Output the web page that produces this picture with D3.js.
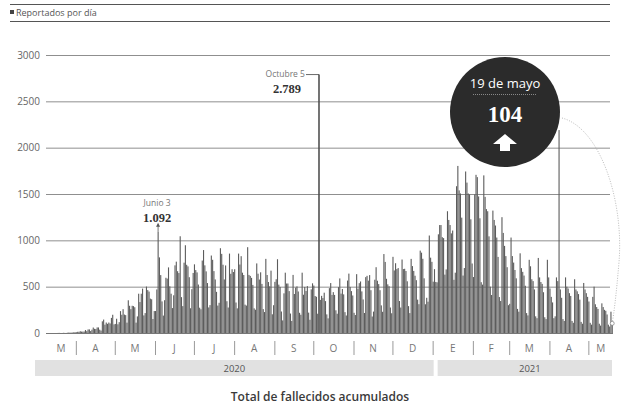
<!DOCTYPE html>
<html>
<head>
<meta charset="utf-8">
<script src="https://cdn.jsdelivr.net/npm/d3@7"></script>
<style>
  body { margin: 0; background: #fff; }
  text { font-family: "Open Sans", sans-serif; }
</style>
</head>
<body>
<svg id="chart" width="624" height="407"></svg>
<script>
// daily reported deaths (one array per month)
const START = Date.UTC(2020, 2, 9);
const END = Date.UTC(2021, 4, 20);
const mar2020 = [0,0,0,0,0,0,0,0,0,1,1,0,0,2,1,0,3,4,4,4,4,8,8];
const apr2020 = [8,13,13,19,15,15,16,32,20,38,39,21,36,59,45,43,60,60,36,26,126,145,90,113,99,113,103,163,197,93];
const may2020 = [98,154,94,117,236,197,257,199,193,112,353,294,257,294,290,278,112,179,424,334,424,479,190,215,501,463,447,371,364,151,237];
const jun2020 = [237,470,1092,816,625,341,188,354,596,587,708,504,424,269,407,730,770,667,647,1044,387,290,759,947,736,719,602,267,473,648];
const jul2020 = [741,679,654,523,273,256,782,895,730,665,539,276,301,836,790,668,578,444,296,326,915,854,737,578,729,343,275,857,639,688,658];
const aug2020 = [688,329,266,857,739,829,651,626,306,296,926,627,616,595,519,266,251,751,640,577,655,530,258,226,800,626,550,504,673,202,300];
const sep2020 = [552,580,796,522,497,232,136,428,651,534,534,452,210,130,627,421,490,503,448,218,197,651,413,497,453,506,220,143,471,536];
const oct2020 = [512,399,391,208,2789,357,401,377,435,344,201,158,484,539,411,441,411,245,208,495,589,425,475,417,225,189,566,641,497,452,405];
const nov2020 = [218,194,635,478,538,556,449,362,216,603,617,565,625,462,178,231,575,710,564,528,462,298,229,852,767,585,525,505,275,213];
const dec2020 = [822,675,753,690,701,345,275,793,690,693,669,558,290,215,800,722,670,618,570,360,311,889,867,801,590,310,380,338,1052,813,768];
const jan2021 = [554,689,551,547,1065,1165,1165,1034,1024,630,686,1314,1220,1165,1075,1106,574,651,1584,1803,1539,1506,1245,620,701,1743,1623,1506,1495,1227,750];
const feb2021 = [604,1495,1707,1682,1474,1238,548,522,1701,1469,1337,1314,1043,500,410,1321,1220,1160,1030,821,388,345,1250,1080,940,830,710,300];
const mar2021 = [315,1030,830,760,680,590,260,230,860,700,660,620,510,215,190,790,720,580,560,470,180,160,810,600,550,530,440,170,150,790,600];
const apr2021 = [480,390,330,160,180,600,560,2190,470,380,150,130,600,500,480,430,400,130,110,580,470,450,420,360,120,100,540,470,430,390];
const may2021 = [340,110,90,390,500,310,280,260,100,80,320,280,250,240,200,90,70,230,104];

const yTicks = [0, 500, 1000, 1500, 2000, 2500, 3000];
const monthLabels = ["M","A","M","J","J","A","S","O","N","D","E","F","M","A","M"];
const yearLabels = ["2020", "2021"];
const yearStarts = [Date.UTC(2020, 2, 1), Date.UTC(2021, 0, 1)];

const daily = [].concat(mar2020, apr2020, may2020, jun2020, jul2020, aug2020,
  sep2020, oct2020, nov2020, dec2020, jan2021, feb2021, mar2021, apr2021, may2021)
  .map((v, i) => ({ date: d3.utcDay.offset(new Date(START), i), value: v }));

const svg = d3.select("#chart");
const x = d3.scaleUtc().domain([new Date(START), new Date(END)]).range([46, 613]);
const y = d3.scaleLinear().domain([0, 3000]).range([333, 55]);

// header rules
svg.append("line").attr("x1", 10).attr("x2", 610).attr("y1", 4.5).attr("y2", 4.5)
  .attr("stroke", "#555").attr("stroke-width", 1);
svg.append("line").attr("x1", 10).attr("x2", 610).attr("y1", 21.5).attr("y2", 21.5)
  .attr("stroke", "#555").attr("stroke-width", 1);
svg.append("rect").attr("x", 10).attr("y", 10).attr("width", 4).attr("height", 4).attr("fill", "#444");
svg.append("text").attr("x", 16).attr("y", 16).attr("font-size", 9).attr("fill", "#555")
  .text("Reportados por día");

// grid + y labels
const yAxis = svg.append("g").attr("transform", "translate(46,0)")
  .call(d3.axisLeft(y).tickValues(yTicks).tickSize(-564).tickPadding(6).tickFormat(d3.format("d")));
yAxis.select(".domain").remove();
yAxis.selectAll(".tick line").attr("stroke", "#8f8f8f");
yAxis.selectAll(".tick text").attr("fill", "#666").attr("font-size", 10)
  .style("font-family", '"Open Sans", sans-serif');

// bars
svg.append("g").selectAll("rect")
  .data(daily.filter(d => d.value > 0))
  .join("rect")
  .attr("x", d => x(d.date))
  .attr("width", 1.1)
  .attr("y", d => y(d.value))
  .attr("height", d => y(0) - y(d.value))
  .attr("fill", "#5c5c5c");

// baseline
svg.append("line").attr("x1", 46).attr("x2", 613).attr("y1", y(0) + 0.5).attr("y2", y(0) + 0.5)
  .attr("stroke", "#777");

// month separators and labels
const monthStarts = d3.utcMonth.range(new Date(Date.UTC(2020, 3, 1)), new Date(END));
const mAxis = svg.append("g").attr("transform", "translate(0,341)")
  .call(d3.axisBottom(x).tickValues(monthStarts).tickSize(14).tickFormat(""));
mAxis.select(".domain").remove();
mAxis.selectAll(".tick line").attr("stroke", "#999");

const bounds = [new Date(START)].concat(monthStarts, [new Date(END)]);
svg.append("g").selectAll("text")
  .data(monthLabels)
  .join("text")
  .attr("x", (d, i) => (x(bounds[i]) + x(bounds[i + 1])) / 2)
  .attr("y", 352)
  .attr("text-anchor", "middle")
  .attr("font-size", 10)
  .attr("fill", "#777")
  .text(d => d);

// year bands
const yearEnds = [Date.UTC(2021, 0, 1), END];
const bandLeft = i => i === 0 ? 35 : x(new Date(yearStarts[i])) + 5;
const bandRight = i => i === 0 ? x(new Date(yearEnds[0])) + 1 : 612;
svg.append("g").selectAll("rect")
  .data(yearLabels)
  .join("rect")
  .attr("x", (d, i) => bandLeft(i))
  .attr("width", (d, i) => bandRight(i) - bandLeft(i))
  .attr("y", 360).attr("height", 16)
  .attr("fill", "#e1e1e1");
svg.append("g").selectAll("text")
  .data(yearLabels)
  .join("text")
  .attr("x", (d, i) => (bandLeft(i) + bandRight(i)) / 2 + (i === 1 ? 5 : 0))
  .attr("y", 371.5)
  .attr("text-anchor", "middle")
  .attr("font-size", 9.5)
  .attr("fill", "#555")
  .text(d => d);

// title
svg.append("text").attr("x", 320).attr("y", 401).attr("text-anchor", "middle")
  .attr("font-size", 12).attr("font-weight", 600).attr("fill", "#3a3a3a")
  .text("Total de fallecidos acumulados");

// annotation: junio 3
const jun3 = daily.find(d => +d.date === Date.UTC(2020, 5, 3));
const jx = x(jun3.date) + 0.5;
svg.append("line").attr("x1", jx).attr("x2", jx).attr("y1", y(jun3.value)).attr("y2", y(jun3.value) - 7)
  .attr("stroke", "#555").attr("stroke-width", 0.8);
svg.append("path")
  .attr("d", `M${jx - 2},${y(jun3.value) - 5} L${jx},${y(jun3.value) - 9} L${jx + 2},${y(jun3.value) - 5} Z`)
  .attr("fill", "#555");
svg.append("text").attr("x", jx - 1).attr("y", 206).attr("text-anchor", "middle")
  .attr("font-size", 8.5).attr("fill", "#777").text("Junio 3");
svg.append("text").attr("x", jx - 1).attr("y", 222).attr("text-anchor", "middle")
  .attr("font-size", 12.5).attr("font-weight", "bold").attr("fill", "#333")
  .style("font-family", '"Liberation Serif", "DejaVu Serif", serif')
  .text(d3.format(",")(jun3.value).replace(",", "."));

// annotation: octubre 5
const oct5 = daily.find(d => +d.date === Date.UTC(2020, 9, 5));
const ox = x(oct5.date) + 0.5;
svg.append("line").attr("x1", ox - 13).attr("x2", ox).attr("y1", y(oct5.value)).attr("y2", y(oct5.value))
  .attr("stroke", "#444").attr("stroke-width", 0.8);
svg.append("line").attr("x1", ox).attr("x2", ox).attr("y1", y(oct5.value)).attr("y2", y(0))
  .attr("stroke", "#444").attr("stroke-width", 1);
svg.append("text").attr("x", ox - 14).attr("y", 77).attr("text-anchor", "end")
  .attr("font-size", 8.5).attr("fill", "#777").text("Octubre 5");
svg.append("text").attr("x", 287).attr("y", 93).attr("text-anchor", "middle")
  .attr("font-size", 12.5).attr("font-weight", "bold").attr("fill", "#333")
  .style("font-family", '"Liberation Serif", "DejaVu Serif", serif')
  .text(d3.format(",")(oct5.value).replace(",", "."));

// bubble for the last day
const last = daily[daily.length - 1];
const lx = x(last.date) + 0.5, ly = y(last.value);
svg.append("path")
  .attr("d", `M562,118 C600,128 624,200 619,262 C616,298 614,312 ${lx},${ly}`)
  .attr("fill", "none").attr("stroke", "#aaa").attr("stroke-width", 0.8)
  .attr("stroke-dasharray", "1,1.5");
svg.append("circle").attr("cx", lx).attr("cy", ly).attr("r", 2)
  .attr("fill", "#fff").attr("stroke", "#888").attr("stroke-width", 0.8);

const cx = 505, cy = 112;
svg.append("circle").attr("cx", cx).attr("cy", cy).attr("r", 55).attr("fill", "#2b2b2b");
svg.append("text").attr("x", cx).attr("y", 88).attr("text-anchor", "middle")
  .attr("font-size", 13).attr("fill", "#fff").text("19 de mayo");
svg.append("line").attr("x1", 473).attr("x2", 537).attr("y1", 94.5).attr("y2", 94.5)
  .attr("stroke", "#888").attr("stroke-width", 1).attr("stroke-dasharray", "1,1");
svg.append("text").attr("x", cx).attr("y", 122).attr("text-anchor", "middle")
  .attr("font-size", 23).attr("font-weight", "bold").attr("fill", "#fff")
  .style("font-family", '"Liberation Serif", "DejaVu Serif", serif')
  .text(last.value);
svg.append("path")
  .attr("d", `M${cx},134 L${cx + 12},144 L${cx + 5},144 L${cx + 5},151 L${cx - 5},151 L${cx - 5},144 L${cx - 12},144 Z`)
  .attr("fill", "#fff");
</script>
</body>
</html>
